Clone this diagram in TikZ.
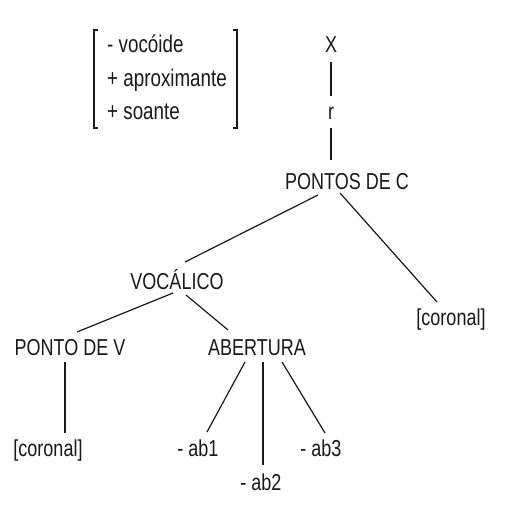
\documentclass[tikz,border=0pt]{standalone}
\usepackage{fontspec}
\setmainfont{Liberation Sans}
\newcommand{\talltext}[1]{\scalebox{1}[1.28]{#1}}
\begin{document}
\begin{tikzpicture}[x=1pt,y=-1pt,
  lab/.style={inner sep=0pt,anchor=base,font=\fontsize{18}{20}\selectfont,text=black!90},
  featlab/.style={lab,anchor=base west,font=\fontsize{18.8}{20}\selectfont},
  edge/.style={line width=1.2pt,draw=black!90},
  brk/.style={line width=1.3pt,draw=black!90}]
\useasboundingbox[fill=white] (0,0) rectangle (527,524);
% feature matrix
\node[featlab] (f1) at (107,53) {\talltext{- vocóide}};
\node[featlab] (f2) at (107,87) {\talltext{+ aproximante}};
\node[featlab] (f3) at (107,120) {\talltext{+ soante}};
\coordinate (bl) at (94,30);
\coordinate (br) at (237,30);
\draw[brk] ([shift={(4,0)}]bl) -- (bl) -- ([shift={(0,98)}]bl) -- ([shift={(4,98)}]bl);
\draw[brk] ([shift={(-4,0)}]br) -- (br) -- ([shift={(0,98)}]br) -- ([shift={(-4,98)}]br);
% tree nodes
\node[lab] (x) at (331,53) {\talltext{X}};
\node[lab] (r) at (331,120) {\talltext{r}};
\node[lab] (pc) at (347,189) {\talltext{PONTOS DE C}};
\node[lab] (voc) at (177,289) {\talltext{VOCÁLICO}};
\node[lab] (corR) at (451,325) {\talltext{[coronal]}};
\node[lab] (pdv) at (70,355) {\talltext{PONTO DE V}};
\node[lab] (abe) at (257,355) {\talltext{ABERTURA}};
\node[lab] (corL) at (48,456) {\talltext{[coronal]}};
\node[lab] (ab1) at (198,456) {\talltext{- ab1}};
\node[lab] (ab2) at (261,490) {\talltext{- ab2}};
\node[lab] (ab3) at (321,456) {\talltext{- ab3}};
% connectors
\draw[edge] ([shift={(0,9)}]x.base) -- ([shift={(0,-24)}]r.base);
\draw[edge] ([shift={(0,8)}]r.base) -- ([shift={(-16,-29)}]pc.base);
\draw[edge] ([shift={(-29,6)}]pc.base) -- ([shift={(8,-27)}]voc.base);
\draw[edge] ([shift={(-7,4)}]pc.base) -- ([shift={(-14,-23)}]corR.base);
\draw[edge] ([shift={(-4,4)}]voc.base) -- ([shift={(7,-23)}]pdv.base);
\draw[edge] ([shift={(9,6)}]voc.base) -- ([shift={(-29,-25)}]abe.base);
\draw[edge] ([shift={(-5,7)}]pdv.base) -- ([shift={(17,-23)}]corL.base);
\draw[edge] ([shift={(-12,7)}]abe.base) -- ([shift={(9,-24)}]ab1.base);
\draw[edge] ([shift={(6,7)}]abe.base) -- ([shift={(2,-25)}]ab2.base);
\draw[edge] ([shift={(25,7)}]abe.base) -- ([shift={(4,-23)}]ab3.base);
\end{tikzpicture}
\end{document}
